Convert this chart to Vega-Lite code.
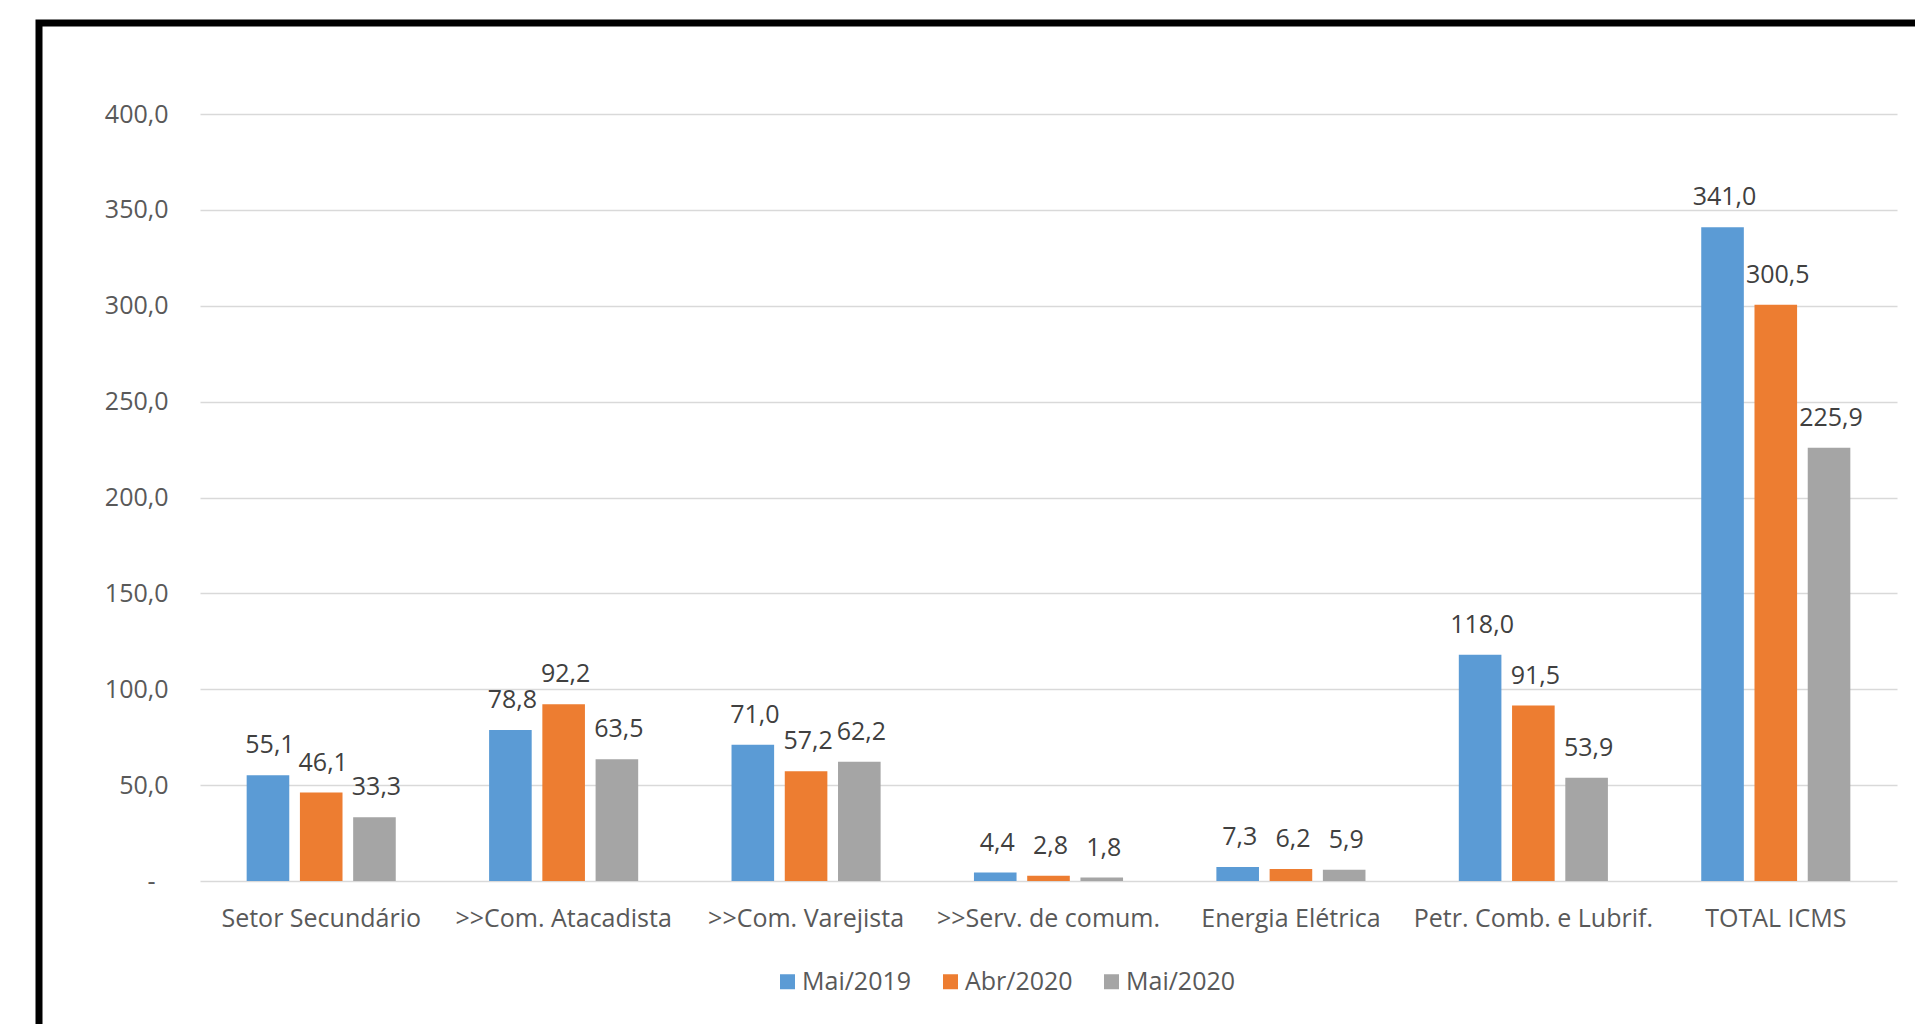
{
  "$schema": "https://vega.github.io/schema/vega-lite/v6.json",
  "autosize": {"type": "none"},
  "padding": {"left": 39, "top": 23, "right": -24, "bottom": -29},
  "width": 1900,
  "height": 1030,
  "background": "white",
  "config": {
    "locale": {"number": {"decimal": ",", "thousands": ".", "grouping": [3], "currency": ["R$", ""]}},
    "font": "Open Sans",
    "view": {"stroke": "#000000", "strokeWidth": 7, "fill": "white"},
    "axis": {
      "labelFont": "Open Sans",
      "labelFontSize": 25,
      "labelColor": "#595959",
      "domain": false,
      "ticks": false,
      "title": null
    }
  },
  "data": {
    "values": [
      {"setor": "Setor Secundário", "periodo": "Mai/2019", "valor": 55.1},
      {"setor": "Setor Secundário", "periodo": "Abr/2020", "valor": 46.1},
      {"setor": "Setor Secundário", "periodo": "Mai/2020", "valor": 33.3},
      {"setor": ">>Com. Atacadista", "periodo": "Mai/2019", "valor": 78.8},
      {"setor": ">>Com. Atacadista", "periodo": "Abr/2020", "valor": 92.2},
      {"setor": ">>Com. Atacadista", "periodo": "Mai/2020", "valor": 63.5},
      {"setor": ">>Com. Varejista", "periodo": "Mai/2019", "valor": 71.0},
      {"setor": ">>Com. Varejista", "periodo": "Abr/2020", "valor": 57.2},
      {"setor": ">>Com. Varejista", "periodo": "Mai/2020", "valor": 62.2},
      {"setor": ">>Serv. de comum.", "periodo": "Mai/2019", "valor": 4.4},
      {"setor": ">>Serv. de comum.", "periodo": "Abr/2020", "valor": 2.8},
      {"setor": ">>Serv. de comum.", "periodo": "Mai/2020", "valor": 1.8},
      {"setor": "Energia Elétrica", "periodo": "Mai/2019", "valor": 7.3},
      {"setor": "Energia Elétrica", "periodo": "Abr/2020", "valor": 6.2},
      {"setor": "Energia Elétrica", "periodo": "Mai/2020", "valor": 5.9},
      {"setor": "Petr. Comb. e Lubrif.", "periodo": "Mai/2019", "valor": 118.0},
      {"setor": "Petr. Comb. e Lubrif.", "periodo": "Abr/2020", "valor": 91.5},
      {"setor": "Petr. Comb. e Lubrif.", "periodo": "Mai/2020", "valor": 53.9},
      {"setor": "TOTAL ICMS", "periodo": "Mai/2019", "valor": 341.0},
      {"setor": "TOTAL ICMS", "periodo": "Abr/2020", "valor": 300.5},
      {"setor": "TOTAL ICMS", "periodo": "Mai/2020", "valor": 225.9}
    ]
  },
  "encoding": {
    "x": {
      "field": "setor",
      "type": "nominal",
      "sort": null,
      "scale": {"range": [161, 1858], "paddingInner": 0.385, "paddingOuter": 0.1925},
      "axis": {
        "orient": "bottom",
        "offset": -172,
        "labelPadding": 25,
        "labelBaseline": "top",
        "labelAngle": 0,
        "labelLimit": 400,
        "labelOverlap": false,
        "title": null
      }
    },
    "xOffset": {
      "field": "periodo",
      "type": "nominal",
      "sort": ["Mai/2019", "Abr/2020", "Mai/2020"],
      "scale": {"paddingInner": 0.2}
    },
    "y": {
      "field": "valor",
      "type": "quantitative",
      "scale": {"domain": [0, 400], "range": [858, 91], "nice": false, "zero": true},
      "axis": {
        "orient": "left",
        "offset": -161,
        "values": [0, 50, 100, 150, 200, 250, 300, 350, 400],
        "format": ".1f",
        "labelExpr": "datum.value === 0 ? '-' : datum.label",
        "labelPadding": {"condition": {"test": "datum.value === 0", "value": 45}, "value": 32},
        "grid": true,
        "gridColor": "#d9d9d9",
        "gridWidth": 1.5,
        "title": null
      }
    }
  },
  "layer": [
    {
      "mark": {"type": "bar"},
      "encoding": {
        "color": {
          "field": "periodo",
          "type": "nominal",
          "sort": ["Mai/2019", "Abr/2020", "Mai/2020"],
          "scale": {"domain": ["Mai/2019", "Abr/2020", "Mai/2020"], "range": ["#5B9BD5", "#ED7D31", "#A5A5A5"]},
          "legend": {
            "orient": "none",
            "legendX": 736,
            "legendY": 946,
            "direction": "horizontal",
            "title": null,
            "symbolType": "square",
            "symbolSize": 225,
            "symbolStrokeWidth": 0,
            "symbolOpacity": 1,
            "labelFont": "Open Sans",
            "labelFontSize": 25,
            "labelColor": "#595959",
            "labelOffset": 2,
            "columnPadding": 26,
            "padding": 0
          }
        }
      }
    },
    {
      "mark": {"type": "text", "baseline": "alphabetic", "align": "center", "dy": -22, "dx": 2, "font": "Open Sans", "fontSize": 25, "color": "#404040"},
      "encoding": {
        "text": {"field": "valor", "type": "quantitative", "format": ".1f"}
      }
    }
  ]
}
